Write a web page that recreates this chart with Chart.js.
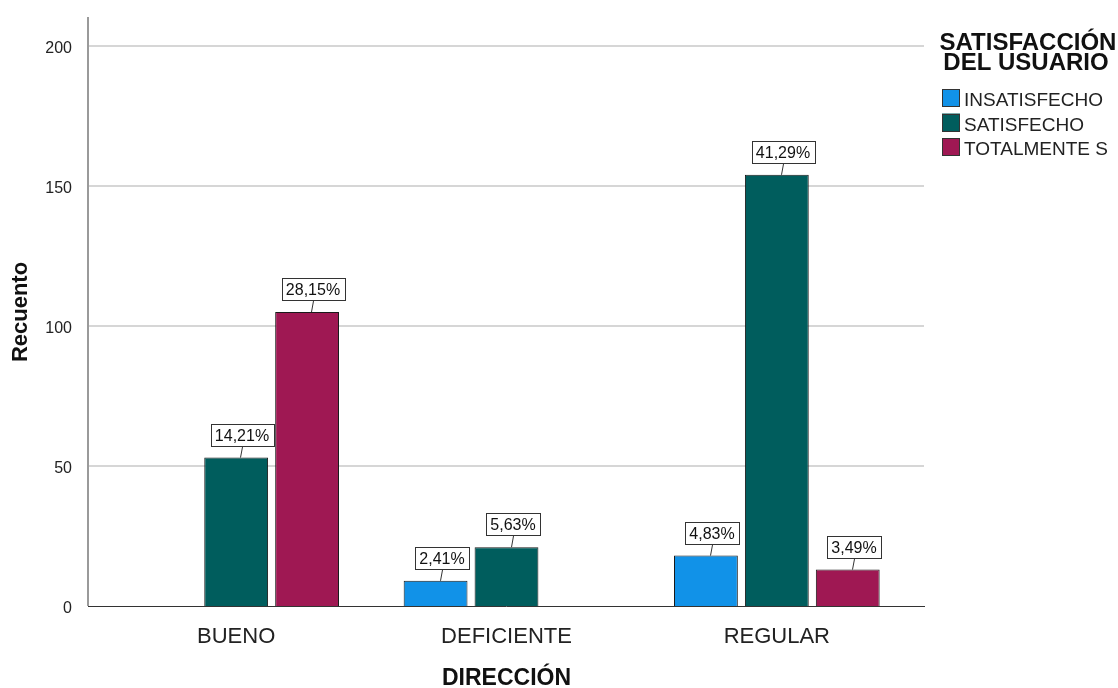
<!DOCTYPE html>
<html>
<head>
<meta charset="utf-8">
<title>Recuento por dirección</title>
<script src="https://cdn.jsdelivr.net/npm/chart.js@4.4.0/dist/chart.umd.min.js"></script>
<style>
  html, body { margin: 0; padding: 0; background: #fff; }
  #chart { display: block; }
</style>
</head>
<body>
<canvas id="chart" width="1118" height="688"></canvas>
<script>
var categories = ['BUENO', 'DEFICIENTE', 'REGULAR'];
var insatisfecho = [null, 9, 18];
var satisfecho = [53, 21, 154];
var totalmente = [105, null, 13];
var seriesNames = ['INSATISFECHO', 'SATISFECHO', 'TOTALMENTE S'];
var seriesColors = ['#1192e8', '#005d5d', '#9f1853'];
var yTicks = [0, 50, 100, 150, 200];
var legendTitle = ['SATISFACCIÓN', 'DEL USUARIO'];

var FONT = '"Liberation Sans", Arial, sans-serif';
var AXIS_X = 88;
var GRID_RIGHT = 924;

// percentages are taken over the grand total of all counts
var total = [insatisfecho, satisfecho, totalmente].reduce(function (s, arr) {
    return s + arr.reduce(function (a, v) { return a + (v || 0); }, 0);
}, 0);

function pct(v) {
    return (v / total * 100).toFixed(2).replace('.', ',') + '%';
}

// grid, y axis line, base line, value boxes and legend
var spssFrame = {
    id: 'spssFrame',
    beforeDatasetsDraw: function (chart) {
        var ctx = chart.ctx;
        var y = chart.scales.y;
        ctx.save();
        ctx.strokeStyle = '#d6d6d6';
        ctx.lineWidth = 2;
        yTicks.forEach(function (t) {
            if (t === 0) return;
            var py = Math.round(y.getPixelForValue(t));
            ctx.beginPath();
            ctx.moveTo(AXIS_X, py);
            ctx.lineTo(GRID_RIGHT, py);
            ctx.stroke();
        });
        ctx.strokeStyle = '#9a9a9a';
        ctx.beginPath();
        ctx.moveTo(AXIS_X, y.top - 1);
        ctx.lineTo(AXIS_X, y.bottom);
        ctx.stroke();
        ctx.restore();
    },
    afterDatasetsDraw: function (chart) {
        var ctx = chart.ctx;
        var y0 = Math.round(chart.scales.y.getPixelForValue(0)) + 0.5;
        ctx.save();
        ctx.strokeStyle = '#333';
        ctx.lineWidth = 1;
        ctx.beginPath();
        ctx.moveTo(AXIS_X, y0);
        ctx.lineTo(GRID_RIGHT + 1, y0);
        ctx.stroke();

        ctx.font = '16px ' + FONT;
        ctx.textAlign = 'center';
        ctx.textBaseline = 'middle';
        chart.data.datasets.forEach(function (ds, di) {
            var meta = chart.getDatasetMeta(di);
            meta.data.forEach(function (bar, i) {
                var v = ds.data[i];
                if (v == null) return;
                var text = pct(v);
                var w = Math.round(ctx.measureText(text).width + 9);
                var h = 23;
                var cx = Math.round(bar.x + 6);
                var bottom = Math.round(bar.y - 11);
                ctx.strokeStyle = '#333';
                ctx.beginPath();
                ctx.moveTo(cx + 0.5, bottom);
                ctx.lineTo(cx - 1.5, bar.y);
                ctx.stroke();
                ctx.fillStyle = '#fff';
                ctx.fillRect(cx - w / 2, bottom - h, w, h);
                ctx.strokeRect(Math.round(cx - w / 2) + 0.5, bottom - h + 0.5, w, h - 1);
                ctx.fillStyle = '#111';
                ctx.fillText(text, cx, bottom - h / 2 + 1);
            });
        });
        ctx.restore();
    },
    afterDraw: function (chart) {
        var ctx = chart.ctx;
        ctx.save();
        ctx.fillStyle = '#111';
        ctx.font = 'bold 24px ' + FONT;
        ctx.textAlign = 'center';
        ctx.textBaseline = 'alphabetic';
        ctx.fillText(legendTitle[0], 1028, 50);
        ctx.fillText(legendTitle[1], 1026, 70);

        ctx.font = '19px ' + FONT;
        ctx.textAlign = 'left';
        chart.data.datasets.forEach(function (ds, i) {
            var top = 89 + i * 24.5;
            ctx.fillStyle = ds.backgroundColor;
            ctx.fillRect(942, top, 18, 18);
            ctx.strokeStyle = '#333';
            ctx.lineWidth = 1;
            ctx.strokeRect(942.5, Math.round(top) + 0.5, 17, 17);
            ctx.fillStyle = '#222';
            ctx.fillText(ds.label, 964, top + 17);
        });
        ctx.restore();
    }
};

var datasets = [insatisfecho, satisfecho, totalmente].map(function (values, i) {
    return {
        label: seriesNames[i],
        data: values,
        backgroundColor: seriesColors[i],
        borderColor: '#1a1a1a',
        borderWidth: 1,
        categoryPercentage: 0.787,
        barPercentage: 0.9
    };
});

var ctx = document.getElementById('chart').getContext('2d');
var chart = new Chart(ctx, {
    type: 'bar',
    data: {
        labels: categories,
        datasets: datasets
    },
    plugins: [spssFrame],
    options: {
        responsive: false,
        animation: false,
        layout: {
            padding: { top: 18, right: 206, left: 0, bottom: 0 }
        },
        plugins: {
            legend: { display: false },
            tooltip: { enabled: false }
        },
        scales: {
            x: {
                grid: { display: false },
                border: { display: false },
                ticks: {
                    color: '#222',
                    padding: 10,
                    font: { family: FONT, size: 22 }
                },
                title: {
                    display: true,
                    text: 'DIRECCIÓN',
                    color: '#111',
                    padding: 0,
                    font: { family: FONT, size: 23, weight: 'bold', lineHeight: 0.8 }
                },
                afterFit: function (scale) { scale.height = 82; }
            },
            y: {
                min: 0,
                max: 210,
                grid: { display: false },
                border: { display: false },
                afterBuildTicks: function (scale) {
                    scale.ticks = yTicks.map(function (v) { return { value: v }; });
                },
                ticks: {
                    color: '#222',
                    padding: 21,
                    labelOffset: 3,
                    font: { family: FONT, size: 16 }
                },
                title: {
                    display: true,
                    text: 'Recuento',
                    color: '#111',
                    padding: { top: 10, bottom: 0 },
                    font: { family: FONT, size: 22, weight: 'bold', lineHeight: 1 }
                },
                afterFit: function (scale) {
                    // fixed axis width; tick padding should not push the plot down
                    scale.width = 101;
                    scale.paddingTop = 0;
                    scale.paddingBottom = 0;
                }
            }
        }
    }
});
</script>
</body>
</html>
